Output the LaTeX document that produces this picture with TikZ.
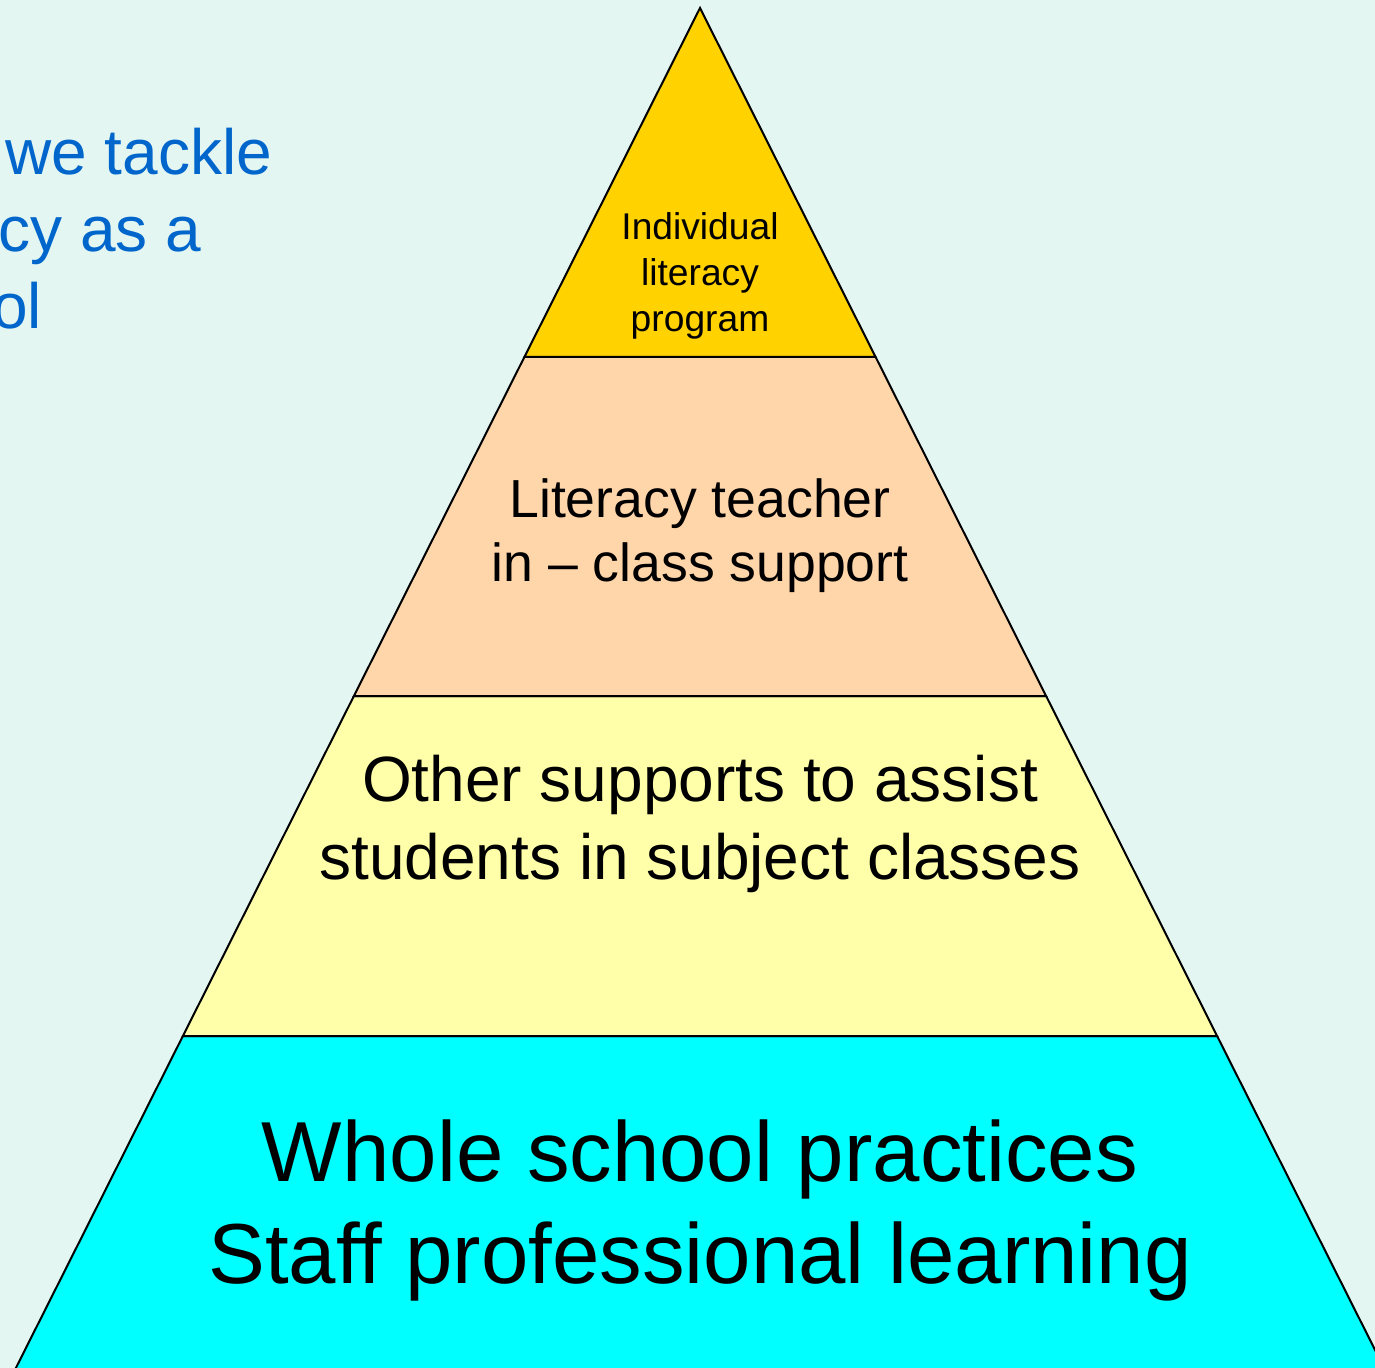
\documentclass[tikz,border=0pt]{standalone}
\usepackage{fontspec}
\setmainfont{Liberation Sans}
\definecolor{bgc}{HTML}{E4F6F2}
\definecolor{topc}{HTML}{FFD200}
\definecolor{peach}{HTML}{FFD6AA}
\definecolor{lyel}{HTML}{FFFFAA}
\definecolor{cyanc}{HTML}{00FFFF}
\definecolor{bluet}{HTML}{0066CC}
\begin{document}
\begin{tikzpicture}[x=0.5pt,y=-0.5pt,
  layer/.style={draw=black,line width=1pt,line join=miter},
  lbl/.style={align=center,text=black,inner sep=0pt},
  side/.style={text=bluet,anchor=base west,inner sep=0pt,font=\fontsize{32}{38}\selectfont}]
\useasboundingbox (0,0) rectangle (1375,1368);
\clip (0,0) rectangle (1375,1368);
\fill[bgc] (0,0) rectangle (1375,1368);
% pyramid: apex (700,8), half-slope 0.503
\coordinate (apex) at (700,8);
\coordinate (l1) at (524.4,357); \coordinate (r1) at (875.6,357);
\coordinate (l2) at (353.9,696); \coordinate (r2) at (1046.1,696);
\coordinate (l3) at (182.9,1036); \coordinate (r3) at (1217.1,1036);
\coordinate (l4) at (5.8,1388); \coordinate (r4) at (1394.2,1388);
\filldraw[layer,fill=cyanc] (l3) -- (r3) -- (r4) -- (l4) -- cycle;
\filldraw[layer,fill=lyel] (l2) -- (r2) -- (r3) -- (l3) -- cycle;
\filldraw[layer,fill=peach] (l1) -- (r1) -- (r2) -- (l2) -- cycle;
\filldraw[layer,fill=topc] (apex) -- (r1) -- (l1) -- cycle;
\node[lbl,font=\fontsize{18.6}{23}\selectfont] (t1) at (700,276) {Individual\\literacy\\program};
\node[lbl,font=\fontsize{26.8}{32}\selectfont] (t2) at (700,536) {Literacy teacher\\in -- class support};
\node[lbl,font=\fontsize{32}{39}\selectfont] (t3) at (700,824) {Other supports to assist\\students in subject classes};
\node[lbl,font=\fontsize{42.6}{51}\selectfont] (t4) at (700,1210) {Whole school practices\\Staff professional learning};
\node[side] (s1) at (5,175) {we tackle};
\node[side] (s2) at (-2,252) {cy as a};
\node[side] (s3) at (-8,329) {ol};
\end{tikzpicture}
\end{document}
